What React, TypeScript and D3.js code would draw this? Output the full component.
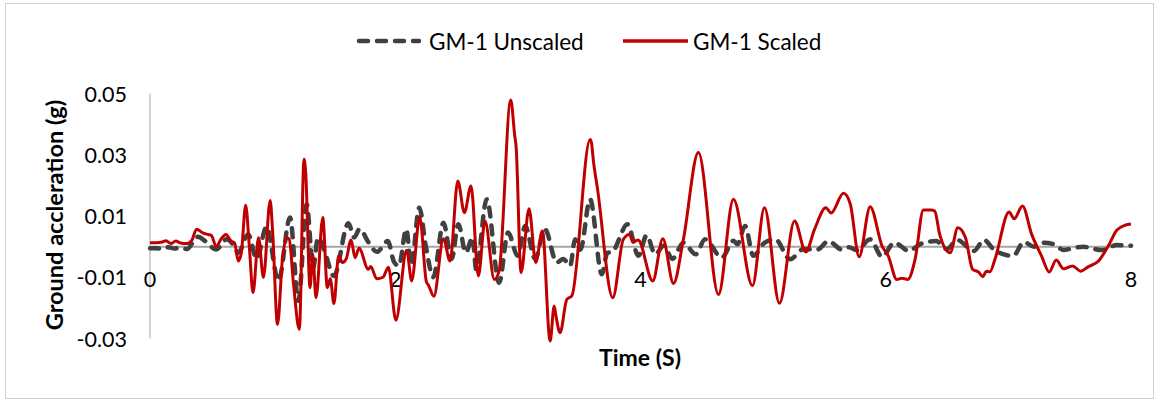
import React from 'react';
import * as d3 from 'd3';

const xTicks = [0, 2, 4, 6, 8];
const yTicks = [-0.03, -0.01, 0.01, 0.03, 0.05];
const seriesNames = ['GM-1 Unscaled', 'GM-1 Scaled'];

const scaledTime = [
  0.0, 0.05, 0.1, 0.13, 0.17, 0.21, 0.25, 0.3, 0.34, 0.38, 0.43, 0.47, 0.5, 0.54, 0.58, 0.62, 0.66, 0.69,
  0.72, 0.745, 0.78, 0.81, 0.84, 0.885, 0.925, 0.98, 1.0, 1.04, 1.08, 1.115, 1.135, 1.17, 1.218, 1.256,
  1.27, 1.305, 1.327, 1.354, 1.409, 1.446, 1.47, 1.5, 1.538, 1.57, 1.6, 1.64, 1.672, 1.705, 1.78, 1.8,
  1.849, 1.9, 1.944, 2.005, 2.093, 2.134, 2.2, 2.254, 2.27, 2.315, 2.393, 2.447, 2.51, 2.564, 2.618,
  2.678, 2.732, 2.808, 2.847, 2.942, 2.975, 2.985, 3.026, 3.091, 3.146, 3.2, 3.263, 3.296, 3.31, 3.344,
  3.399, 3.44, 3.589, 3.6, 3.616, 3.65, 3.774, 3.86, 3.91, 3.94, 3.98, 4.1, 4.182, 4.269, 4.35, 4.472,
  4.636, 4.758, 4.913, 5.011, 5.133, 5.256, 5.348, 5.42, 5.511, 5.555, 5.655, 5.71, 5.783, 5.873, 5.97,
  6.02, 6.09, 6.13, 6.18, 6.24, 6.307, 6.375, 6.4, 6.44, 6.525, 6.588, 6.65, 6.708, 6.756, 6.792, 6.82,
  6.85, 6.89, 7.006, 7.047, 7.115, 7.19, 7.27, 7.333, 7.39, 7.45, 7.523, 7.59, 7.65, 7.735, 7.817, 7.885,
  7.953, 8.0,
];
const scaledAccel = [
  0.0013, 0.0013, 0.0015, 0.0019, 0.001, 0.0018, 0.0012, 0.001, 0.002, 0.0057, 0.0045, 0.004, 0.0037, 0.0,
  0.0025, 0.004, 0.0018, 0.0012, -0.0047, -0.002, 0.0135, 0.0, -0.015, 0.0029, -0.0101, 0.0151, 0.005,
  -0.0254, -0.004, 0.0029, 0.0025, -0.012, -0.027, 0.0285, 0.024, -0.0134, -0.0025, -0.0167, 0.0095,
  -0.0134, -0.0105, -0.0186, -0.003, -0.0052, -0.004, 0.0022, -0.0036, -0.0005, -0.0074, -0.0065, -0.0105,
  -0.01, -0.0067, -0.024, -0.0012, -0.0112, 0.0097, -0.0115, -0.0125, -0.0162, 0.0026, -0.0047, 0.0214,
  0.0111, 0.0198, -0.0096, 0.0084, -0.0107, -0.008, 0.0479, 0.036, 0.033, -0.0085, 0.0124, -0.0052, 0.0052,
  -0.0308, -0.0194, -0.0225, -0.0281, -0.0172, -0.0161, 0.035, 0.034, 0.028, 0.0187, -0.0167, 0.0024, 0.004,
  0.0015, 0.0022, -0.0112, 0.0026, -0.012, 0.0024, 0.0307, -0.0156, 0.0155, -0.0128, 0.0127, -0.0185, 0.0084,
  -0.0017, 0.0057, 0.0127, 0.011, 0.0174, 0.014, -0.0033, 0.013, 0.0002, -0.003, -0.0107, -0.0103, -0.0107,
  -0.004, 0.012, 0.012, 0.0116, 0.004, -0.002, 0.0062, 0.003, -0.0074, -0.0083, -0.0098, -0.008, -0.0082,
  -0.0042, 0.0113, 0.0091, 0.0133, 0.004, -0.003, -0.0083, -0.0044, -0.0072, -0.0063, -0.008, -0.0066,
  -0.0047, 0.0004, 0.0054, 0.007, 0.0074,
];

const unscaledTime = [
  0.0, 0.05, 0.1, 0.15, 0.2, 0.25, 0.3, 0.39, 0.45, 0.54, 0.625, 0.68, 0.72, 0.8, 0.87, 0.95, 1.048, 1.142,
  1.21, 1.278, 1.33, 1.37, 1.42, 1.5, 1.618, 1.665, 1.71, 1.78, 1.85, 1.94, 1.99, 2.03, 2.09, 2.13, 2.196,
  2.25, 2.31, 2.393, 2.46, 2.515, 2.575, 2.63, 2.66, 2.746, 2.847, 2.92, 2.998, 3.06, 3.14, 3.22, 3.317,
  3.37, 3.426, 3.467, 3.51, 3.589, 3.684, 3.73, 3.766, 3.894, 3.983, 4.05, 4.12, 4.19, 4.26, 4.35, 4.45,
  4.527, 4.663, 4.758, 4.79, 4.853, 4.92, 5.01, 5.098, 5.22, 5.33, 5.44, 5.533, 5.64, 5.7, 5.765, 5.873,
  5.97, 6.07, 6.19, 6.28, 6.41, 6.5, 6.58, 6.72, 6.8, 6.89, 7.04, 7.125, 7.21, 7.29, 7.37, 7.45, 7.52, 7.61,
  7.68, 7.76, 7.885, 7.97, 8.0,
];
const unscaledAccel = [
  -0.0005, -0.0005, -0.0008, -0.0002, -0.0006, -0.0003, -0.0008, 0.0032, 0.0018, -0.0009, 0.0024, 0.0005,
  -0.002, 0.004, -0.004, 0.0065, -0.0112, 0.0095, -0.0177, 0.0138, -0.007, 0.003, -0.001, -0.0096, 0.0076,
  0.003, 0.0058, 0.0015, -0.0017, 0.0018, -0.005, -0.0063, 0.0057, -0.006, 0.0127, 0.0, -0.01, 0.0078,
  -0.004, 0.0073, -0.002, 0.003, -0.0074, 0.0155, -0.0118, 0.0046, -0.003, 0.0067, -0.004, 0.0057, -0.0052,
  -0.004, -0.0063, 0.0024, -0.001, 0.0155, -0.009, -0.002, -0.0018, 0.0073, -0.003, 0.0037, -0.0025, 0.0003,
  -0.004, 0.0013, -0.0025, 0.0024, -0.0036, 0.0019, 0.0008, 0.0067, -0.003, 0.0012, 0.0024, -0.0041,
  -0.0008, -0.001, 0.0018, -0.0009, -0.0002, -0.0012, 0.0024, -0.0033, 0.0013, -0.0014, 0.0008, 0.0018,
  -0.0008, 0.0022, -0.0014, 0.0022, -0.0013, -0.003, 0.0015, 0.0, 0.0013, 0.0008, -0.0011, -0.0006, 0.0,
  -0.0006, -0.0011, 0.0005, 0.0004, 0.0003,
];

const FONT = "Lato, 'Open Sans', sans-serif";

export default function App() {
  const W = 1159;
  const H = 402;
  const x = d3.scaleLinear().domain([0, 8]).range([150, 1131]);
  const y = d3.scaleLinear().domain([-0.03, 0.05]).range([338.5, 93.5]);
  const line = d3
    .line<[number, number]>()
    .x((d) => x(d[0]))
    .y((d) => y(d[1]))
    .curve(d3.curveMonotoneX);

  const scaled: [number, number][] = scaledTime.map((t, i) => [t, scaledAccel[i]]);
  const unscaled: [number, number][] = unscaledTime.map((t, i) => [t, unscaledAccel[i]]);
  const fmt = (v: number) => v.toFixed(2);

  return (
    <svg
      width={W}
      height={H}
      style={{ position: 'absolute', left: 0, top: 0, background: '#fff' }}
      fontFamily={FONT}
    >
      <rect x={5.5} y={3.5} width={1148} height={395} fill="#fff" stroke="#D0D0D0" strokeWidth={1} />

      {/* legend */}
      <g>
        <line x1={359} x2={419} y1={41} y2={41} stroke="#404040" strokeWidth={4.5} strokeDasharray="9 9" strokeLinecap="round" />
        <text x={429} y={41} dominantBaseline="central" fontSize={22.5} fill="#000">{seriesNames[0]}</text>
        <line x1={623} x2={688} y1={41} y2={41} stroke="#C00000" strokeWidth={3.5} />
        <text x={693} y={41} dominantBaseline="central" fontSize={22.5} fill="#000">{seriesNames[1]}</text>
      </g>

      {/* y axis */}
      <line x1={x(0)} x2={x(0)} y1={y(0.05)} y2={y(-0.03)} stroke="#A6A6A6" strokeWidth={1} />
      {yTicks.map((v) => (
        <text key={v} x={127} y={y(v)} textAnchor="end" dominantBaseline="central" fontSize={21.5} fill="#000">
          {fmt(v)}
        </text>
      ))}

      {/* zero line */}
      <line x1={x(0)} x2={x(8)} y1={y(0)} y2={y(0)} stroke="#A6A6A6" strokeWidth={2} />
      {xTicks.map((t) => (
        <text key={t} x={x(t)} y={279} textAnchor="middle" dominantBaseline="central" fontSize={21.5} fill="#000">
          {t}
        </text>
      ))}

      {/* series */}
      <path d={line(unscaled) || ''} fill="none" stroke="#404040" strokeWidth={4.5} strokeDasharray="9 9" strokeLinecap="round" strokeLinejoin="round" />
      <path d={line(scaled) || ''} fill="none" stroke="#C00000" strokeWidth={3} strokeLinejoin="round" />

      {/* axis titles */}
      <text x={640} y={357} textAnchor="middle" dominantBaseline="central" fontSize={23} fontWeight="bold" fill="#000">
        Time (S)
      </text>
      <text
        transform={`translate(54,215) rotate(-90)`}
        textAnchor="middle"
        dominantBaseline="central"
        fontSize={23.5}
        fontWeight="bold"
        fill="#000"
      >
        Ground accleration (g)
      </text>
    </svg>
  );
}
